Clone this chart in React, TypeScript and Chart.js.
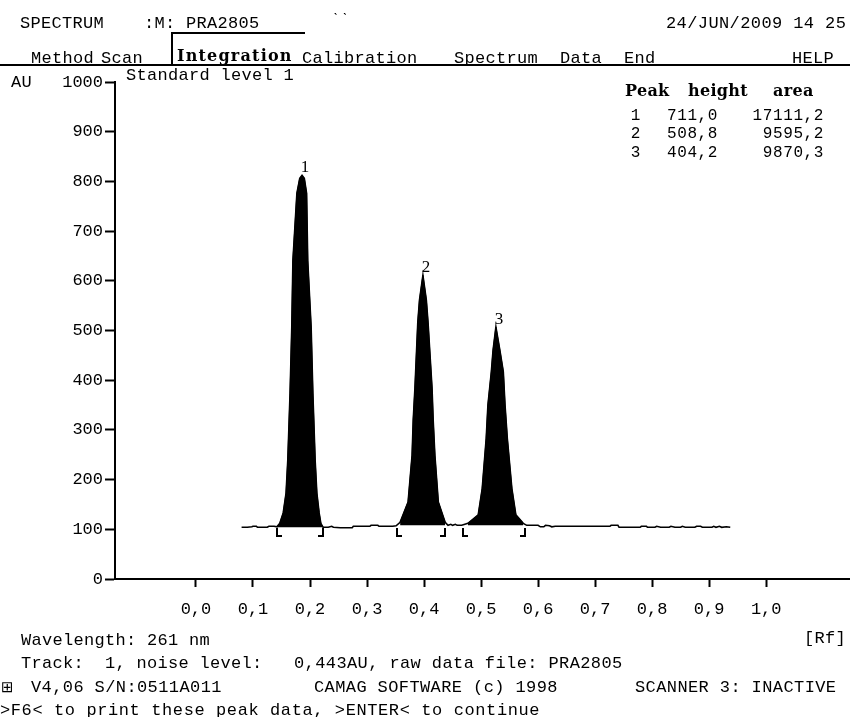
import React, { useEffect, useRef } from 'react';
import { Chart, registerables } from 'chart.js';

Chart.register(...registerables);

// ---- data ----
const traceRf = [
  0.080, 0.090, 0.098, 0.100, 0.106, 0.108, 0.125, 0.128, 0.137, 0.142,
  0.147, 0.153, 0.158, 0.161, 0.165, 0.168, 0.170, 0.177, 0.182, 0.186,
  0.190, 0.194, 0.196, 0.202, 0.205, 0.209, 0.212, 0.216, 0.219, 0.223,
  0.232, 0.238, 0.241, 0.253, 0.274, 0.276, 0.305, 0.307, 0.319, 0.321,
  0.337, 0.345, 0.351,
  0.358, 0.372, 0.379, 0.381, 0.384, 0.389, 0.392, 0.398, 0.404, 0.407,
  0.414, 0.416, 0.419, 0.425, 0.437, 0.442,
  0.447, 0.450, 0.455, 0.458, 0.462, 0.466,
  0.477, 0.495, 0.502, 0.509, 0.512, 0.518, 0.521, 0.526, 0.533, 0.539,
  0.542, 0.546, 0.554, 0.561, 0.574, 0.580,
  0.600, 0.604, 0.610, 0.613, 0.620, 0.624, 0.630, 0.644, 0.690, 0.726,
  0.728, 0.740, 0.742, 0.779, 0.781, 0.790, 0.792, 0.805, 0.808, 0.815,
  0.830, 0.833, 0.840, 0.850, 0.853, 0.858, 0.875, 0.878, 0.885, 0.888,
  0.905, 0.908, 0.912, 0.918, 0.922, 0.930, 0.937,
];
const traceAU = [
  104, 104, 105, 106, 106, 104, 104, 106, 106, 105,
  112, 133, 173, 239, 374, 506, 641, 776, 806, 812,
  806, 776, 641, 506, 374, 239, 173, 133, 112, 104,
  104, 106, 104, 103, 103, 106, 106, 108, 108, 106,
  106, 106, 107,
  114, 155, 249, 320, 384, 516, 561, 611, 561, 516,
  384, 320, 249, 155, 114, 108,
  110, 108, 110, 108, 108, 108,
  112, 129, 182, 283, 350, 417, 460, 507, 460, 417,
  350, 283, 182, 129, 112, 108,
  108, 105, 105, 108, 107, 105, 106, 106, 106, 106,
  108, 108, 104, 104, 106, 106, 104, 104, 106, 104,
  104, 106, 104, 104, 106, 104, 104, 106, 106, 104,
  104, 106, 104, 106, 104, 105, 104,
];
const peakNo = [1, 2, 3];
const peakStart = [0.1416, 0.352, 0.468];
const peakEnd = [0.2233, 0.437, 0.577];
const peakBase = [104, 108, 108];
const peakHeight = [711.0, 508.8, 404.2];
const peakArea = [17111.2, 9595.2, 9870.3];
const baselineAU = 104;
const xTicks = [0, 0.1, 0.2, 0.3, 0.4, 0.5, 0.6, 0.7, 0.8, 0.9, 1.0];
const yMin = 0;
const yMax = 1000;
const yStep = 100;
const xMin = -0.142;
const xMax = 1.147;

const MONO = "'Liberation Mono', 'DejaVu Sans Mono', monospace";
const SERIF = "'DejaVu Serif', serif";

const fmt = (v: number) => v.toFixed(1).replace('.', ',');

const points = traceRf.map((x, i) => ({ x, y: traceAU[i] }));
const apexes = peakStart.map((s, i) => {
  let best = { x: s, y: -Infinity };
  points.forEach((p) => {
    if (p.x >= s && p.x <= peakEnd[i] && p.y > best.y) best = p;
  });
  return best;
});

const overlayPlugin = {
  id: 'overlay',
  afterDatasetsDraw(chart: any) {
    const { ctx, scales } = chart;
    const x = scales.x;
    const y = scales.y;
    ctx.save();
    ctx.fillStyle = '#000';
    ctx.strokeStyle = '#000';
    ctx.font = "17px 'Liberation Serif', serif";
    ctx.textAlign = 'center';
    ctx.textBaseline = 'alphabetic';
    peakNo.forEach((n, i) => {
      const a = apexes[i];
      ctx.fillText(String(n), x.getPixelForValue(a.x) + 3, y.getPixelForValue(a.y) - 3);
    });
    ctx.lineWidth = 2;
    const by = Math.round(y.getPixelForValue(baselineAU));
    peakStart.forEach((s, i) => {
      const xs = Math.round(x.getPixelForValue(s));
      const xe = Math.round(x.getPixelForValue(peakEnd[i]));
      ctx.beginPath();
      ctx.moveTo(xs, by + 1);
      ctx.lineTo(xs, by + 9);
      ctx.lineTo(xs + 5, by + 9);
      ctx.moveTo(xe, by + 1);
      ctx.lineTo(xe, by + 9);
      ctx.lineTo(xe - 5, by + 9);
      ctx.stroke();
    });
    ctx.restore();
  },
};

type TProps = {
  x: number;
  base: number;
  text: string;
  size?: number;
  ls?: number;
  family?: string;
  bold?: boolean;
  ratio?: number;
  right?: boolean;
};

const T = ({ x, base, text, size = 17, ls = 0.3, family = MONO, bold = false, ratio = 0.766, right = false }: TProps) => {
  const style: React.CSSProperties = {
    position: 'absolute',
    top: base - ratio * size,
    fontSize: size,
    lineHeight: `${size}px`,
    fontFamily: family,
    fontWeight: bold ? 700 : 400,
    letterSpacing: ls,
    whiteSpace: 'pre',
    color: '#000',
  };
  if (right) style.right = 850 - x;
  else style.left = x;
  return <span style={style}>{text}</span>;
};

export default function App() {
  const ref = useRef<HTMLCanvasElement | null>(null);

  useEffect(() => {
    if (!ref.current) return;
    const fills = peakStart.map((s, i) => ({
      data: points.filter((p) => p.x >= s && p.x <= peakEnd[i]),
      borderColor: '#000',
      backgroundColor: '#000',
      borderWidth: 1,
      pointRadius: 0,
      fill: { value: peakBase[i] },
      tension: 0,
    }));
    const chart = new Chart(ref.current, {
      type: 'line',
      data: {
        datasets: [
          {
            data: points,
            borderColor: '#000',
            borderWidth: 1.6,
            pointRadius: 0,
            fill: false,
            tension: 0,
          },
          ...fills,
        ] as any,
      },
      options: {
        animation: false,
        responsive: false,
        devicePixelRatio: 1,
        events: [],
        layout: { padding: { top: 82, left: 0, right: 0, bottom: 78 } },
        plugins: { legend: { display: false }, tooltip: { enabled: false } },
        scales: {
          x: {
            type: 'linear',
            min: xMin,
            max: xMax,
            afterBuildTicks: (scale: any) => {
              scale.ticks = xTicks.map((v) => ({ value: v }));
            },
            afterFit: (scale: any) => {
              scale.height = 60;
            },
            ticks: {
              color: '#000',
              font: { family: MONO, size: 17 },
              padding: 12,
              maxRotation: 0,
              autoSkip: false,
              callback: (v: any) => fmt(Number(v)),
            },
            grid: {
              drawOnChartArea: false,
              drawTicks: true,
              tickLength: 8,
              tickWidth: 2,
              tickColor: '#000',
            },
            border: { display: true, color: '#000', width: 2 },
          },
          y: {
            type: 'linear',
            min: yMin,
            max: yMax,
            afterFit: (scale: any) => {
              scale.width = 115;
            },
            ticks: {
              stepSize: yStep,
              color: '#000',
              font: { family: MONO, size: 17 },
              padding: 2,
              callback: (v: any) => String(v),
            },
            grid: {
              drawOnChartArea: false,
              drawTicks: true,
              tickLength: 10,
              tickWidth: 2,
              tickColor: '#000',
            },
            border: { display: true, color: '#000', width: 2 },
          },
        },
      } as any,
      plugins: [overlayPlugin],
    });
    return () => chart.destroy();
  }, []);

  return (
    <div
      style={{
        position: 'fixed',
        left: 0,
        top: 0,
        width: 850,
        height: 717,
        background: '#fff',
        overflow: 'hidden',
      }}
    >
      <canvas ref={ref} width={850} height={717} style={{ position: 'absolute', left: 0, top: 0, width: 850, height: 717 }} />

      {/* header */}
      <T x={20} base={28} text="SPECTRUM" />
      <T x={144} base={28} text=":M: PRA2805" />
      <T x={332} base={12} text="ˎˎ" size={12} ls={2} />
      <T x={666} base={28} text="24/JUN/2009 14 25" ls={0.4} />

      {/* menu */}
      <T x={31} base={63} text="Method" />
      <T x={101} base={63} text="Scan" />
      <T x={177} base={62} text="Integration" family={SERIF} bold size={16} ls={1.2} ratio={0.846} />
      <T x={302} base={63} text="Calibration" />
      <T x={454} base={63} text="Spectrum" />
      <T x={560} base={63} text="Data" />
      <T x={624} base={63} text="End" />
      <T x={792} base={63} text="HELP" />
      <div style={{ position: 'absolute', left: 0, top: 64, width: 850, height: 2, background: '#000' }} />
      <div style={{ position: 'absolute', left: 171, top: 32, width: 134, height: 2, background: '#000' }} />
      <div style={{ position: 'absolute', left: 171, top: 32, width: 2, height: 33, background: '#000' }} />

      {/* chart titles */}
      <T x={126} base={80} text="Standard level 1" />
      <T x={11} base={87} text="AU" />

      {/* peak table */}
      <T x={625} base={97} text="Peak" family={SERIF} bold size={16} ls={0.3} ratio={0.846} />
      <T x={688} base={97} text="height" family={SERIF} bold size={16} ls={0.3} ratio={0.846} />
      <T x={773} base={97} text="area" family={SERIF} bold size={16} ls={0.3} ratio={0.846} />
      {peakNo.map((n, i) => (
        <React.Fragment key={n}>
          <T x={641} base={120 + i * 18.5} text={String(n)} size={16} ls={0.6} right />
          <T x={718} base={120 + i * 18.5} text={fmt(peakHeight[i])} size={16} ls={0.6} right />
          <T x={824} base={120 + i * 18.5} text={fmt(peakArea[i])} size={16} ls={0.6} right />
        </React.Fragment>
      ))}

      {/* footer */}
      <T x={21} base={645} text="Wavelength: 261 nm" />
      <T x={804} base={643} text="[Rf]" />
      <T x={21} base={668} text="Track:  1, noise level:" />
      <T x={294} base={668} text="0,443AU, raw data file: PRA2805" ls={0.4} />
      <T x={1} base={692} text="⊞" family="'DejaVu Sans', sans-serif" size={15} ratio={0.8} ls={0} />
      <T x={31} base={692} text="V4,06 S/N:0511A011" ls={0.4} />
      <T x={314} base={692} text="CAMAG SOFTWARE (c) 1998" ls={0.4} />
      <T x={635} base={692} text="SCANNER 3: INACTIVE" ls={0.4} />
      <T x={0} base={715} text=">F6< to print these peak data, >ENTER< to continue" ls={0.6} />
    </div>
  );
}
